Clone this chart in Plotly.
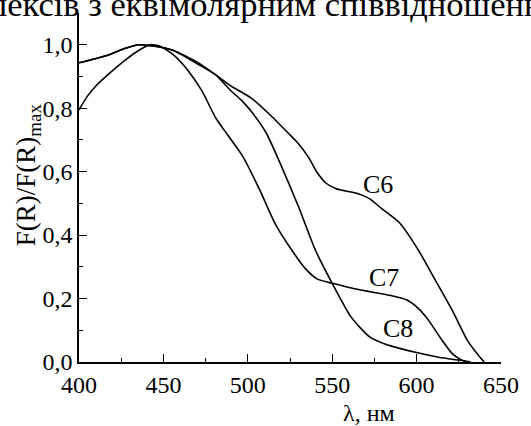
import plotly.graph_objects as go

# C6 curve
c6_x = [400, 417, 427, 436, 445, 456, 470, 481, 490, 502, 513, 524, 530, 536, 541, 546, 552, 558, 565, 572, 579, 590, 601, 611, 621, 630, 636, 640]
c6_y = [0.943, 0.967, 0.988, 1.0, 0.995, 0.982, 0.945, 0.905, 0.87, 0.832, 0.78, 0.721, 0.688, 0.645, 0.598, 0.565, 0.547, 0.539, 0.531, 0.515, 0.485, 0.438, 0.353, 0.259, 0.164, 0.069, 0.025, 0.0]

# C7 curve
c7_x = [400, 405, 410, 417, 427, 436, 442, 448, 456, 465, 473, 481, 488, 497, 507, 516, 526, 534, 541, 550, 560, 567, 574, 586, 594, 601, 607, 615, 621, 626, 630]
c7_y = [0.795, 0.838, 0.87, 0.905, 0.95, 0.984, 1.0, 0.995, 0.968, 0.916, 0.853, 0.769, 0.716, 0.648, 0.543, 0.438, 0.353, 0.295, 0.262, 0.248, 0.235, 0.227, 0.22, 0.208, 0.196, 0.169, 0.132, 0.069, 0.027, 0.008, 0.0]

# C8 curve
c8_x = [400, 417, 427, 436, 445, 456, 470, 481, 490, 496, 502, 511, 520, 530, 540, 550, 561, 572, 582, 590, 600, 613, 622, 628, 632]
c8_y = [0.943, 0.967, 0.988, 1.0, 0.995, 0.982, 0.94, 0.905, 0.855, 0.826, 0.79, 0.721, 0.616, 0.49, 0.353, 0.248, 0.143, 0.08, 0.055, 0.043, 0.03, 0.015, 0.008, 0.004, 0.0]

curve_names = ["C6", "C7", "C8"]
label_x = [577, 580.5, 589]
label_y = [0.558, 0.265, 0.107]

x_ticks = [400, 450, 500, 550, 600, 650]
x_ticktext = ["400", "450", "500", "550", "600", "650"]
y_ticks = [0.0, 0.2, 0.4, 0.6, 0.8, 1.0]
y_ticktext = ["0,0", "0,2", "0,4", "0,6", "0,8", "1,0"]

title_text = "лексів з еквімолярним співвідношенням"
x_title = "λ, нм"
y_title = "F(R)/F(R)<sub>max</sub>"

FONT = "Liberation Serif"

W, H = 531, 426
L, R, T, B = 79, 20, 13, 64
pw = W - L - R
ph = H - T - B


def px_to_paper_x(px):
    return (px - L) / pw


def px_to_paper_y(py):
    return (H - B - py) / ph


fig = go.Figure()
for xs, ys, name in zip([c6_x, c7_x, c8_x], [c6_y, c7_y, c8_y], curve_names):
    fig.add_trace(go.Scatter(x=xs, y=ys, mode="lines", name=name,
                             line=dict(color="black", width=1.6, shape="spline", smoothing=0.6),
                             showlegend=False, cliponaxis=False))

for nm, lx, ly in zip(curve_names, label_x, label_y):
    fig.add_annotation(x=lx, y=ly, xref="x", yref="y", text=nm, showarrow=False,
                       font=dict(family=FONT, size=26, color="black"))

fig.add_annotation(x=px_to_paper_x(-14), y=px_to_paper_y(25), xref="paper", yref="paper",
                   xanchor="left", yanchor="bottom", text=title_text, showarrow=False,
                   font=dict(family=FONT, size=34.5, color="black"))

fig.add_annotation(x=px_to_paper_x(376), y=px_to_paper_y(413), xref="paper", yref="paper",
                   xanchor="center", yanchor="middle", text=x_title, showarrow=False,
                   font=dict(family=FONT, size=24, color="black"))

fig.add_annotation(x=px_to_paper_x(27), y=px_to_paper_y(175), xref="paper", yref="paper",
                   xanchor="center", yanchor="middle", text=y_title, showarrow=False,
                   textangle=-90, font=dict(family=FONT, size=27, color="black"))

fig.update_layout(
    width=W, height=H,
    margin=dict(l=L, r=R, t=T, b=B),
    paper_bgcolor="white", plot_bgcolor="white",
    font=dict(family=FONT, size=24, color="black"),
    xaxis=dict(range=[400, 650], showgrid=False, zeroline=False,
               showline=True, linecolor="black", linewidth=1.5,
               ticks="inside", ticklen=8, tickwidth=1.2, tickcolor="black",
               tickvals=x_ticks, ticktext=x_ticktext,
               minor=dict(ticks="inside", ticklen=4, tickwidth=1.2, tickcolor="black", dtick=25),
               tickfont=dict(family=FONT, size=24)),
    yaxis=dict(range=[0, 1.1], showgrid=False, zeroline=False,
               showline=True, linecolor="black", linewidth=1.5,
               ticks="inside", ticklen=8, tickwidth=1.2, tickcolor="black",
               tickvals=y_ticks, ticktext=y_ticktext,
               minor=dict(ticks="inside", ticklen=4, tickwidth=1.2, tickcolor="black", dtick=0.1),
               tickfont=dict(family=FONT, size=24)),
)

fig.write_html("out.html")
